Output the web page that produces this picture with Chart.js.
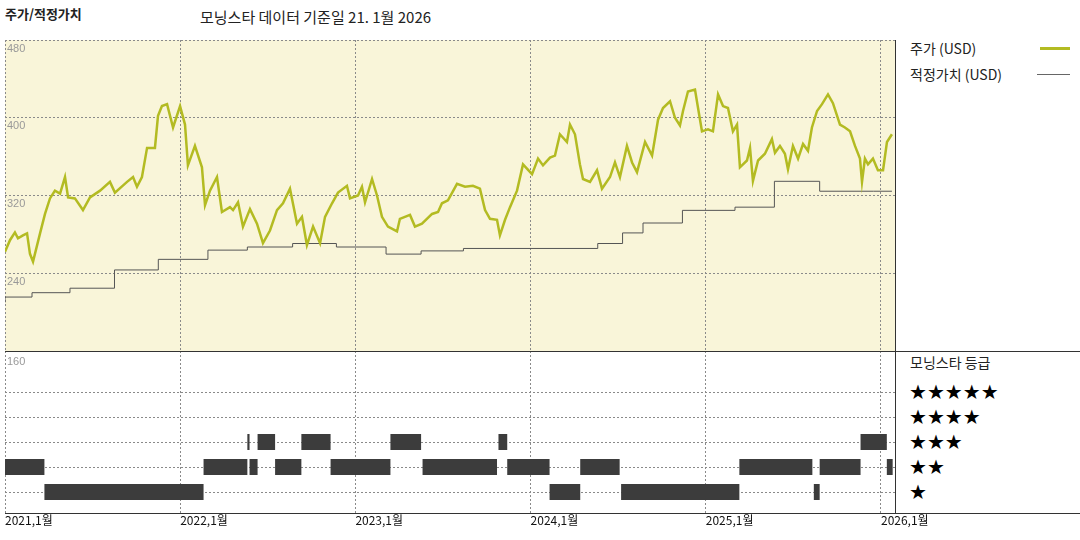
<!DOCTYPE html>
<html><head><meta charset="utf-8">
<script src="https://cdn.jsdelivr.net/npm/chart.js@4/dist/chart.umd.min.js"></script>
<style>
body{margin:0;width:1080px;height:540px;background:#fff;position:relative;overflow:hidden;font-family:"Noto Sans CJK KR","Noto Sans",sans-serif;}
canvas{position:absolute;}
.t{position:absolute;white-space:nowrap;color:#222;}
.ln{position:absolute;background:#333;}
</style></head><body>
<div class="t" style="left:5px;top:4px;font-size:13px;font-weight:bold;">주가/적정가치</div>
<div class="t" style="left:200px;top:6px;font-size:15px;">모닝스타 데이터 기준일 21. 1월 2026</div>
<div class="t" style="left:910px;top:38px;font-size:14px;">주가 (USD)</div>
<div style="position:absolute;left:1040px;top:47px;width:30px;height:3px;background:#b3bb22"></div>
<div class="t" style="left:910px;top:64px;font-size:14px;">적정가치 (USD)</div>
<div style="position:absolute;left:1037px;top:74px;width:33px;height:1px;background:#666"></div>
<div class="t" style="left:910px;top:352px;font-size:14px;">모닝스타 등급</div>
<div id="stars"></div>
<canvas id="top" style="left:5px;top:40px;width:890px;height:311px"></canvas>
<canvas id="bot" style="left:0px;top:351px;width:1000px;height:189px"></canvas>
<div class="ln" style="left:895px;top:40px;width:1px;height:473px"></div>
<div class="ln" style="left:5px;top:351px;width:1075px;height:1px"></div>
<div class="ln" style="left:5px;top:513px;width:1075px;height:1px"></div>
<script>
// ---------------- Data (x = months since 2021-01) ----------------
const priceMonths = [0,0.34,0.68,0.89,1.23,1.51,1.71,1.92,2.40,2.74,3.08,3.42,3.77,4.11,4.32,4.79,5.34,5.82,6.51,7.19,7.53,8.36,8.77,9.04,9.38,9.73,10.27,10.48,10.75,11.10,11.51,11.99,12.33,12.53,13.01,13.49,13.70,14.04,14.52,14.86,15.41,15.62,15.96,16.30,16.78,17.26,17.67,18.15,18.63,19.04,19.52,20.00,20.34,20.68,21.10,21.58,21.92,22.40,22.81,23.42,23.63,24.18,24.45,24.66,25.14,25.48,25.82,26.23,26.85,27.05,27.74,28.08,28.56,29.25,29.66,29.93,30.34,30.96,31.51,32.05,32.53,32.88,33.22,33.70,33.90,34.25,34.59,35.07,35.48,36.10,36.51,36.85,37.33,37.67,38.01,38.49,38.70,39.04,39.38,39.59,40.07,40.55,40.89,41.44,41.78,42.12,42.60,42.95,43.29,43.84,44.32,44.73,45.07,45.55,45.89,46.23,46.44,46.78,47.26,47.47,47.74,48.15,48.49,48.84,49.18,49.52,49.86,50.14,50.34,50.82,51.03,51.23,51.58,52.05,52.53,52.74,53.08,53.42,53.63,53.97,54.32,54.66,55.00,55.27,55.62,55.96,56.37,56.71,57.19,57.53,57.88,58.22,58.56,58.70,58.90,59.11,59.45,59.79,60.14,60.41,60.75];
const priceValues = [262,274,282,276,279,281,260,252,281,301,317,325,322,339,318,317,305,318,325,334,323,334,339,329,339,369,369,402,412,414,390,412,393,351,371,349,310,325,339,303,308,305,313,288,306,291,271,284,305,312,327,291,298,269,288,271,298,312,323,330,317,320,329,313,337,320,298,288,283,296,300,288,291,301,303,312,315,332,329,330,327,305,296,295,279,295,308,325,352,342,358,351,359,361,383,375,393,383,352,337,334,346,327,339,354,339,371,354,344,375,361,398,410,417,400,392,407,427,429,410,386,388,386,424,412,410,386,393,349,356,369,335,356,363,378,364,371,363,347,371,358,373,366,390,407,414,424,415,393,390,386,371,358,334,358,352,358,346,346,375,383];
const fairMonths = [0,1.85,4.45,7.5,10.5,13.9,16.6,19.7,22.7,26.1,28.5,31.4,40.6,42.3,43.7,46.4,50,52.7,55.8,59.5,60.75];
const fairValues = [210,215.5,220,224.6,243.4,254.3,263.8,267,270.6,267,259.7,263,265.5,270.6,281.5,291.7,304.7,308,334.6,324.4,324.4];
// rating segments: [start month, end month, stars]
const ratingSegments = [[0,2.7,2],[2.7,13.6,1],[13.6,16.6,2],[16.6,16.75,3],[16.75,17.3,2],[17.3,18.5,3],[18.5,20.3,2],[20.3,22.3,3],[22.3,26.4,2],[26.4,28.5,3],[28.6,33.7,2],[33.8,34.4,3],[34.4,37.3,2],[37.3,39.4,1],[39.4,42.1,2],[42.2,50.3,1],[50.3,55.3,2],[55.4,55.8,1],[55.8,58.6,2],[58.6,60.4,3],[60.4,60.8,2]];
const yearLabels = ['2021,1월','2022,1월','2023,1월','2024,1월','2025,1월','2026,1월'];
const priceTicks = [480,400,320,240];
const starRows = [5,4,3,2,1];

const X_MAX = 60.96;
const gridCol = '#8a8a8a';

// ---------------- Stars legend ----------------
const starsDiv = document.getElementById('stars');
starRows.forEach((n,i) => {
    starsDiv.innerHTML += `<div class="t" style="left:909px;top:${379+i*25}px;font-size:20px;line-height:26px;color:#000;font-family:'DejaVu Sans'">${'★'.repeat(n)}</div>`;
});

// ---------------- Upper panel ----------------
const bgPlugin = {
    id:'bg',
    beforeDraw(c){
        const a = c.chartArea, ctx = c.ctx;
        ctx.save(); ctx.fillStyle = '#f9f5d9'; ctx.fillRect(a.left,a.top,a.width,a.height); ctx.restore();
    },
    afterDraw(c){
        const ctx = c.ctx, y = c.scales.y, a = c.chartArea;
        ctx.save(); ctx.fillStyle = '#999'; ctx.font = '11px "Liberation Sans"'; ctx.textBaseline = 'top';
        priceTicks.forEach(v => ctx.fillText(String(v), a.left+2, y.getPixelForValue(v)+3));
        ctx.restore();
    }
};
const xScale = () => ({
    type:'linear', min:0, max:X_MAX, display:true,
    afterBuildTicks: s => { s.ticks = [0,12,24,36,48,60].map(v=>({value:v})); },
    ticks:{display:false}, grid:{color:gridCol, drawTicks:false, lineWidth:1}, border:{display:false, dash:[2,2]}
});
new Chart(document.getElementById('top'), {
    type:'line',
    data:{datasets:[
        {data:priceMonths.map((m,i)=>({x:m,y:priceValues[i]})), borderColor:'#b3bb22', borderWidth:2.5, pointRadius:0, tension:0},
        {data:fairMonths.map((m,i)=>({x:m,y:fairValues[i]})), borderColor:'#555', borderWidth:1, pointRadius:0, stepped:'after'}
    ]},
    options:{
        responsive:false, animation:false, layout:{padding:0},
        plugins:{legend:{display:false}, tooltip:{enabled:false}},
        scales:{
            x: xScale(),
            y:{type:'linear', min:160, max:480, afterBuildTicks: s => { s.ticks = [160,240,320,400,480].map(v=>({value:v})); },
               ticks:{display:false}, grid:{color:gridCol, drawTicks:false}, border:{display:false, dash:[2,2]}}
        }
    },
    plugins:[bgPlugin]
});

// ---------------- Lower panel (ratings) ----------------
const ratingData = [];
ratingSegments.forEach(s => { ratingData.push({x:s[0],y:s[2]},{x:s[1],y:s[2]},{x:s[1],y:null}); });
const labelPlugin = {
    id:'labels',
    afterDraw(c){
        const ctx = c.ctx, x = c.scales.x, a = c.chartArea;
        ctx.save(); ctx.font = '12px "Noto Sans CJK KR"'; ctx.fillStyle = '#111'; ctx.textBaseline = 'top';
        yearLabels.forEach((l,i) => ctx.fillText(l, x.getPixelForValue(i*12), a.bottom+1));
        ctx.fillStyle = '#999'; ctx.font = '11px "Liberation Sans"';
        ctx.fillText('160', a.left+2, a.top+5);
        ctx.restore();
    }
};
new Chart(document.getElementById('bot'), {
    type:'line',
    data:{datasets:[
        {data:ratingData, borderColor:'#3c3c3c', borderWidth:16, borderCapStyle:'butt', pointRadius:0, spanGaps:false}
    ]},
    options:{
        responsive:false, animation:false, layout:{padding:{left:5, right:105, bottom:27}},
        plugins:{legend:{display:false}, tooltip:{enabled:false}},
        scales:{
            x: xScale(),
            y:{type:'linear', min:0.16, max:6.64, afterBuildTicks: s => { s.ticks = starRows.map(v=>({value:v})); },
               ticks:{display:false}, grid:{color:gridCol, drawTicks:false}, border:{display:false, dash:[2,2]}}
        }
    },
    plugins:[labelPlugin]
});
</script>
</body></html>
